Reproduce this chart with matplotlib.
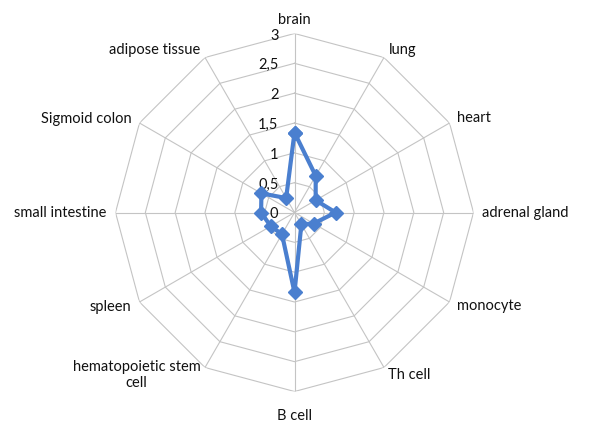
import numpy as np
import matplotlib
matplotlib.use("Agg")
import matplotlib.pyplot as plt

categories = ["brain", "lung", "heart", "adrenal gland", "monocyte", "Th cell",
              "B cell", "hematopoietic stem\ncell", "spleen", "small intestine",
              "Sigmoid colon", "adipose tissue"]
values = [1.34, 0.71, 0.41, 0.69, 0.37, 0.23, 1.34, 0.42, 0.46, 0.56, 0.64, 0.28]
ring_levels = [0, 0.5, 1, 1.5, 2, 2.5, 3]
ring_labels = ["0", "0,5", "1", "1,5", "2", "2,5", "3"]

plt.rcParams['font.family'] = ['Lato', 'DejaVu Sans']
fs = 10.5
line_color = "#4a7fcf"
grid_color = "#c4c4c4"
text_color = "#111111"

fig = plt.figure(figsize=(5.89, 4.28), dpi=100)
ax = fig.add_axes([115.5 / 589, 36.5 / 428, 358 / 589, 358 / 428], projection="polar")
ax.set_theta_offset(np.pi / 2)
ax.set_theta_direction(-1)
ax.set_ylim(0, 3)
ax.grid(False)
ax.spines["polar"].set_visible(False)
ax.set_xticks([])
ax.set_yticks([])
ax.patch.set_alpha(0)

n = len(categories)
angles = np.arange(n) * 2 * np.pi / n
closed = np.append(angles, angles[0])

# polygon rings and spokes
for lv in ring_levels[1:]:
    ax.plot(closed, [lv] * (n + 1), color=grid_color, lw=0.8, zorder=1)
for a in angles:
    ax.plot([a, a], [0, ring_levels[-1]], color=grid_color, lw=0.8, zorder=1)

# ring value labels left of the vertical axis
for lv, lab in zip(ring_levels, ring_labels):
    ax.annotate(lab, xy=(0, lv), xytext=(-16, -2), textcoords="offset pixels",
                ha="right", va="center", fontsize=fs, color=text_color, zorder=3)

# category labels
for a, cat in zip(angles, categories):
    s, c = np.sin(a), np.cos(a)
    if s > 0.1:
        ha = "left"
    elif s < -0.1:
        ha = "right"
    else:
        ha = "center"
    if c > 0.9:
        va = "bottom"
        extra = -2
    elif c < -0.9:
        va = "top"
        extra = -8
    else:
        va = "center"
        extra = 0
    dist = 9
    ax.annotate(cat, xy=(a, ring_levels[-1]), xytext=(dist * s, dist * c + extra),
                textcoords="offset pixels", ha=ha, va=va, multialignment="center",
                fontsize=fs, color=text_color, annotation_clip=False)

vals = np.append(values, values[0])
ax.plot(closed, vals, color=line_color, lw=3, marker="D", markersize=7,
        markerfacecolor=line_color, markeredgecolor=line_color, zorder=4)

fig.savefig("out.png", dpi=100)
